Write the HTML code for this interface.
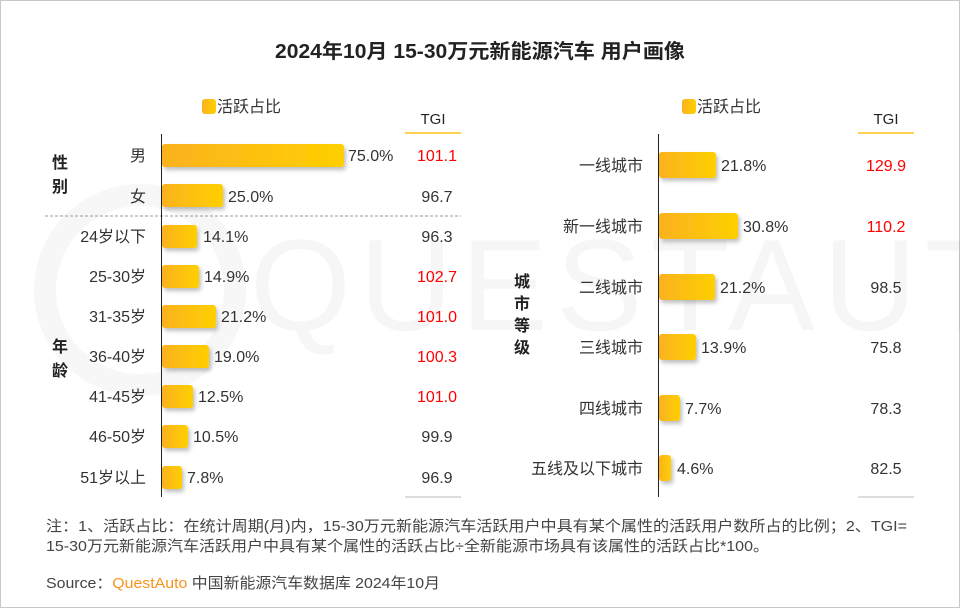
<!DOCTYPE html>
<html><head><meta charset="utf-8"><style>
body{margin:0;background:#fff}
svg{display:block;font-family:"Liberation Sans","Noto Sans CJK SC",sans-serif}
</style></head><body>
<svg width="960" height="608" viewBox="0 0 960 608" xmlns="http://www.w3.org/2000/svg">
<defs>
<linearGradient id="g" x1="0" x2="1"><stop offset="0" stop-color="#fbb21f"/><stop offset="1" stop-color="#ffcf00"/></linearGradient>
<filter id="s" x="-10%" y="-30%" width="130%" height="180%"><feDropShadow dx="2" dy="3" stdDeviation="2" flood-color="#000" flood-opacity="0.25"/></filter>
</defs>
<rect x="0.5" y="0.5" width="959" height="607" fill="#fff" stroke="#c8c8c8"/>
<g opacity="0.03" fill="none" stroke="#000" stroke-width="22">
<circle cx="140" cy="290" r="95"/>
</g>
<text x="250" y="330" font-size="130" fill="#000" opacity="0.03" letter-spacing="8">QUESTAUTO</text>

<text x="275" y="58" font-size="20" font-weight="bold" fill="#222" textLength="410" lengthAdjust="spacingAndGlyphs">2024年10月 15-30万元新能源汽车 用户画像</text>

<rect x="202" y="99" width="14" height="15" rx="3" fill="url(#g)"/>
<text x="217" y="112" font-size="16" fill="#333">活跃占比</text>
<text x="433" y="124" text-anchor="middle" font-size="15" fill="#222">TGI</text>
<line x1="405" y1="133" x2="461" y2="133" stroke="#ffc21a" stroke-width="1.5"/>
<line x1="405" y1="497" x2="461" y2="497" stroke="#bbb"/>
<line x1="45" y1="216" x2="461" y2="216" stroke="#999" stroke-dasharray="3,2"/>
<line x1="161.5" y1="134" x2="161.5" y2="497" stroke="#222"/>
<text x="60" y="168" text-anchor="middle" font-size="16" font-weight="bold" fill="#222">性</text>
<text x="60" y="192" text-anchor="middle" font-size="16" font-weight="bold" fill="#222">别</text>
<text x="60" y="352" text-anchor="middle" font-size="16" font-weight="bold" fill="#222">年</text>
<text x="60" y="376" text-anchor="middle" font-size="16" font-weight="bold" fill="#222">龄</text>
<g font-size="16" fill="#333">
<g filter="url(#s)">
<rect x="162" y="144" width="182" height="23" rx="3" fill="url(#g)"/>
<rect x="162" y="184" width="61" height="23" rx="3" fill="url(#g)"/>
<rect x="162" y="225" width="35" height="23" rx="3" fill="url(#g)"/>
<rect x="162" y="265" width="37" height="23" rx="3" fill="url(#g)"/>
<rect x="162" y="305" width="54" height="23" rx="3" fill="url(#g)"/>
<rect x="162" y="345" width="47" height="23" rx="3" fill="url(#g)"/>
<rect x="162" y="385" width="31" height="23" rx="3" fill="url(#g)"/>
<rect x="162" y="425" width="26" height="23" rx="3" fill="url(#g)"/>
<rect x="162" y="466" width="20" height="23" rx="3" fill="url(#g)"/>
</g>
<g text-anchor="end">
<text x="146" y="161">男</text><text x="146" y="202">女</text>
<text x="146" y="242">24岁以下</text><text x="146" y="282">25-30岁</text>
<text x="146" y="322">31-35岁</text><text x="146" y="362">36-40岁</text>
<text x="146" y="402">41-45岁</text><text x="146" y="442">46-50岁</text>
<text x="146" y="483">51岁以上</text>
</g>
<text x="348" y="161">75.0%</text><text x="228" y="202">25.0%</text>
<text x="203" y="242">14.1%</text><text x="204" y="282">14.9%</text>
<text x="221" y="322">21.2%</text><text x="214" y="362">19.0%</text>
<text x="198" y="402">12.5%</text><text x="193" y="442">10.5%</text>
<text x="187" y="483">7.8%</text>
<g text-anchor="middle">
<text x="437" y="161" fill="#f00">101.1</text><text x="437" y="202">96.7</text>
<text x="437" y="242">96.3</text><text x="437" y="282" fill="#f00">102.7</text>
<text x="437" y="322" fill="#f00">101.0</text><text x="437" y="362" fill="#f00">100.3</text>
<text x="437" y="402" fill="#f00">101.0</text><text x="437" y="442">99.9</text>
<text x="437" y="483">96.9</text>
</g>
</g>

<rect x="682" y="99" width="14" height="15" rx="3" fill="url(#g)"/>
<text x="697" y="112" font-size="16" fill="#333">活跃占比</text>
<text x="886" y="124" text-anchor="middle" font-size="15" fill="#222">TGI</text>
<line x1="858" y1="133" x2="914" y2="133" stroke="#ffc21a" stroke-width="1.5"/>
<line x1="858" y1="497" x2="914" y2="497" stroke="#bbb"/>
<line x1="658.5" y1="134" x2="658.5" y2="497" stroke="#222"/>
<g font-size="16" font-weight="bold" fill="#222" text-anchor="middle">
<text x="522" y="287">城</text><text x="522" y="309">市</text><text x="522" y="331">等</text><text x="522" y="353">级</text>
</g>
<g font-size="16" fill="#333">
<g filter="url(#s)">
<rect x="659" y="152" width="57" height="26" rx="3" fill="url(#g)"/>
<rect x="659" y="213" width="79" height="26" rx="3" fill="url(#g)"/>
<rect x="659" y="274" width="56" height="26" rx="3" fill="url(#g)"/>
<rect x="659" y="334" width="37" height="26" rx="3" fill="url(#g)"/>
<rect x="659" y="395" width="21" height="26" rx="3" fill="url(#g)"/>
<rect x="659" y="455" width="12" height="26" rx="3" fill="url(#g)"/>
</g>
<g text-anchor="end">
<text x="643" y="171">一线城市</text><text x="643" y="232">新一线城市</text>
<text x="643" y="293">二线城市</text><text x="643" y="353">三线城市</text>
<text x="643" y="414">四线城市</text><text x="643" y="474">五线及以下城市</text>
</g>
<text x="721" y="171">21.8%</text><text x="743" y="232">30.8%</text>
<text x="720" y="293">21.2%</text><text x="701" y="353">13.9%</text>
<text x="685" y="414">7.7%</text><text x="677" y="474">4.6%</text>
<g text-anchor="middle">
<text x="886" y="171" fill="#f00">129.9</text><text x="886" y="232" fill="#f00">110.2</text>
<text x="886" y="293">98.5</text><text x="886" y="353">75.8</text>
<text x="886" y="414">78.3</text><text x="886" y="474">82.5</text>
</g>
</g>

<g font-size="15" fill="#444">
<text x="46" y="531" textLength="861" lengthAdjust="spacingAndGlyphs">注：1、活跃占比：在统计周期(月)内，15-30万元新能源汽车活跃用户中具有某个属性的活跃用户数所占的比例；2、TGI=</text>
<text x="46" y="551" textLength="723" lengthAdjust="spacingAndGlyphs">15-30万元新能源汽车活跃用户中具有某个属性的活跃占比÷全新能源市场具有该属性的活跃占比*100。</text>
<text x="46" y="588" textLength="394" lengthAdjust="spacingAndGlyphs">Source：<tspan fill="#f7941d">QuestAuto</tspan> 中国新能源汽车数据库 2024年10月</text>
</g>
</svg>
</body></html>
